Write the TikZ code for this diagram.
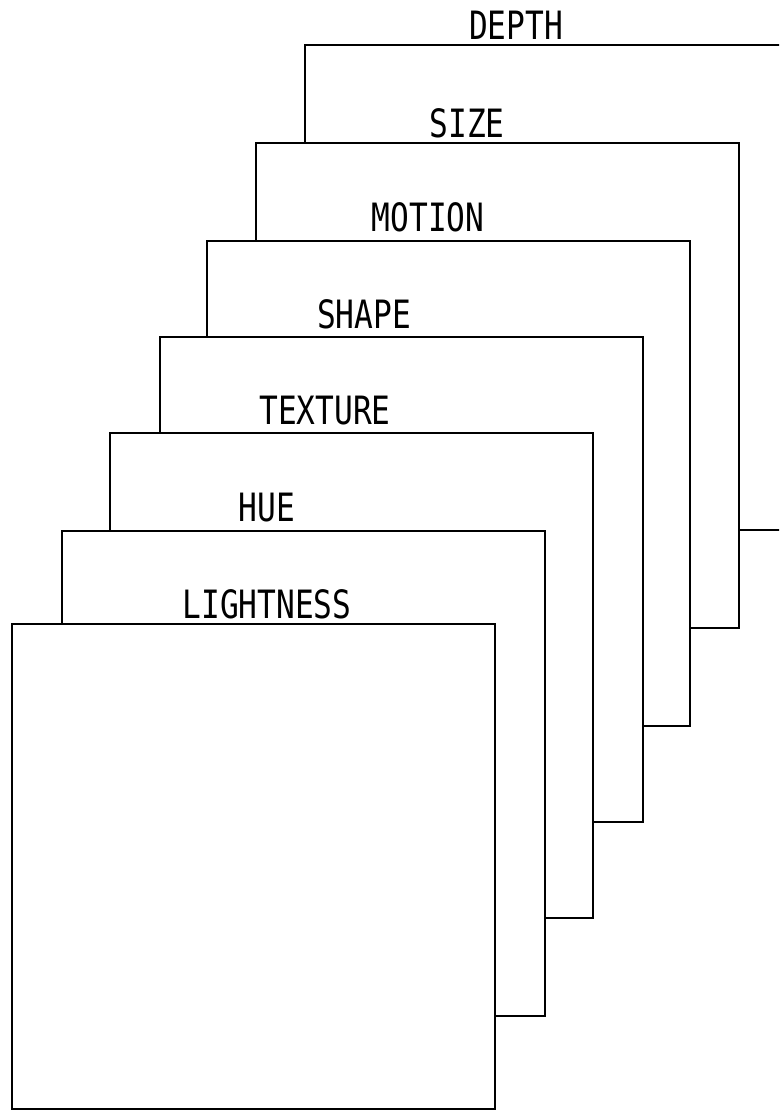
\documentclass[tikz,border=0pt]{standalone}
\usepackage{fontspec}
\newfontfamily\labelfont[FakeStretch=0.8]{DejaVu Sans Mono}
\begin{document}
\begin{tikzpicture}[x=1pt,y=-1pt,
  card/.style={draw=black,fill=white,line width=2.6pt,inner sep=0pt,outer sep=0pt,
    minimum width=483pt,minimum height=485pt,anchor=north west},
  lbl/.style={anchor=base,inner sep=0pt,font=\labelfont\fontsize{39}{42}\selectfont}]
\useasboundingbox (0,0) rectangle (779,1113);
\clip (0,0) rectangle (779,1113);
\node[card] (depth) at (305,45) {};
\node[card] (size) at (256,143) {};
\node[card] (motion) at (207,241) {};
\node[card] (shape) at (160,337) {};
\node[card] (texture) at (110,433) {};
\node[card] (hue) at (62,531) {};
\node[card] (lightness) at (12,624) {};
\node[lbl] (tdepth) at (516,40) {DEPTH};
\node[lbl] (tsize) at (467,137) {SIZE};
\node[lbl] (tmotion) at (428,231) {MOTION};
\node[lbl] (tshape) at (364,328) {SHAPE};
\node[lbl] (ttexture) at (325,424) {TEXTURE};
\node[lbl] (thue) at (267,521) {HUE};
\node[lbl] (tlightness) at (267,618) {LIGHTNESS};
\end{tikzpicture}
\end{document}
